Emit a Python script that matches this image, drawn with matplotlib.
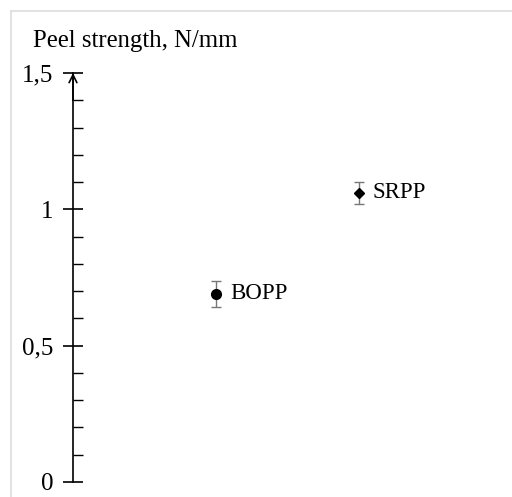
import matplotlib
matplotlib.use("Agg")
import matplotlib.pyplot as plt
from matplotlib.lines import Line2D
from matplotlib.ticker import MultipleLocator, FixedLocator, FuncFormatter

plt.rcParams['font.family'] = ['Liberation Serif', 'DejaVu Serif']

categories = ["BOPP", "SRPP"]
x_pos = [1, 2]
values = [0.69, 1.06]
errors = [0.048, 0.042]
markers = ["o", "D"]
marker_sizes = [7, 5]
y_ticks = [0, 0.5, 1, 1.5]
y_labels = ["0", "0,5", "1", "1,5"]

W, H = 512, 497
fig = plt.figure(figsize=(W/100, H/100), dpi=100)
ax = fig.add_axes([73/W, 15/H, (502-73)/W, (482-73)/H])

for x, v, e, m, ms in zip(x_pos, values, errors, markers, marker_sizes):
    ax.errorbar([x], [v], yerr=[e], fmt=m, color='black', markersize=ms,
                ecolor='#777777', elinewidth=1, capsize=3.5, capthick=1, zorder=3)
for x, v, c in zip(x_pos, values, categories):
    ax.annotate(c, (x, v), xytext=(10, 0), textcoords='offset points',
                va='center', ha='left', fontsize=16.5)

ax.set_xlim(0, 3)
ax.set_ylim(0, 1.5)
for s in ['top', 'right', 'bottom']:
    ax.spines[s].set_visible(False)
ax.spines['left'].set_linewidth(1.2)
ax.xaxis.set_visible(False)
ax.yaxis.set_major_locator(FixedLocator(y_ticks))
ax.yaxis.set_major_formatter(FuncFormatter(lambda v, p: y_labels[y_ticks.index(v)] if v in y_ticks else ""))
ax.yaxis.set_minor_locator(MultipleLocator(0.1))
ax.tick_params(axis='y', which='major', direction='inout', length=14, width=1.2,
               labelsize=18, pad=7)
ax.tick_params(axis='y', which='minor', direction='in', length=7, width=1)

ax.annotate('', xy=(0, 1.5), xytext=(0, 1.4), xycoords='data',
            arrowprops=dict(arrowstyle='->', lw=1.2, color='black',
                            shrinkA=0, shrinkB=0, mutation_scale=14),
            annotation_clip=False)

fig.text(33/W, 1 - 47/H, "Peel strength, N/mm", fontsize=17.8, va='baseline', ha='left')

fig.add_artist(Line2D([10.5/W, 1], [1 - 10.5/H, 1 - 10.5/H], color='#dddddd', lw=1.2,
                      transform=fig.transFigure))
fig.add_artist(Line2D([10.5/W, 10.5/W], [0, 1 - 10.5/H], color='#dddddd', lw=1.2,
                      transform=fig.transFigure))

fig.savefig("out.png", dpi=100)
